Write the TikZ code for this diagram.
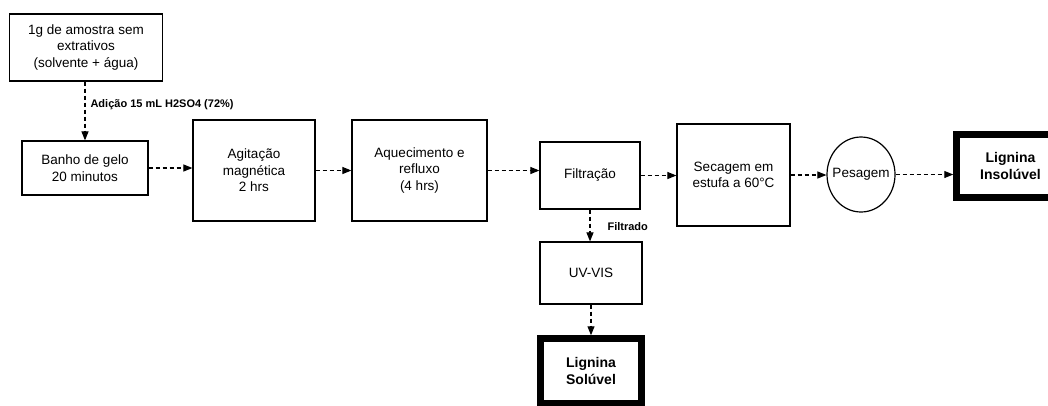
\documentclass[tikz,border=0pt]{standalone}
\usepackage{fontspec}
\setmainfont{Liberation Sans}
\usetikzlibrary{arrows.meta,shapes.geometric}
\tikzset{>={Triangle[width=7pt,length=9pt]}}

\begin{document}
\begin{tikzpicture}[x=1pt,y=-1pt,
    etapa/.style={draw,line width=1.2pt,align=center,inner sep=0pt,font=\fontsize{13.5}{16.5}\selectfont},
    final/.style={etapa,line width=6.5pt,font=\fontsize{14}{17}\selectfont\bfseries},
    fluxo/.style={->,line width=1.1pt,dash pattern=on 4pt off 3pt},
    rotulo/.style={font=\fontsize{11}{13}\selectfont\bfseries,inner sep=0pt}]

  \useasboundingbox (0,0) rectangle (1048,405);
  \clip (0,0) rectangle (1048,405);
  \fill[white] (0,0) rectangle (1048,405);

  %% etapas
  \node[etapa,minimum width=153pt,minimum height=67pt] (amostra) at (86,47.5)
    {1g de amostra sem\\extrativos\\(solvente + água)};
  \node[etapa,minimum width=126pt,minimum height=54pt] (banho) at (85,168)
    {Banho de gelo\\20 minutos};
  \node[etapa,minimum width=122pt,minimum height=101pt] (agitacao) at (254,170.5)
    {Agitação\\magnética\\2 hrs};
  \node[etapa,minimum width=135pt,minimum height=101pt] (aquec) at (419.5,170.5)
    {Aquecimento e\\refluxo\\(4 hrs)};
  \node[etapa,minimum width=100pt,minimum height=67pt] (filtracao) at (590,175.5)
    {Filtração};
  \node[etapa,minimum width=113pt,minimum height=102pt] (secagem) at (733.5,175)
    {Secagem em\\estufa a 60°C};
  \node[etapa,ellipse,minimum width=68pt,minimum height=75pt] (pesagem) at (861,174.5)
    {\makebox[20pt]{Pesagem}};
  \node[final,minimum width=108pt,minimum height=63pt] (insoluvel) at (1010.5,166)
    {Lignina\\Insolúvel};
  \node[etapa,minimum width=102pt,minimum height=62pt] (uvvis) at (591,273)
    {UV-VIS};
  \node[final,minimum width=101pt,minimum height=65pt] (soluvel) at (591,371)
    {Lignina\\Solúvel};

  %% fluxo principal
  \draw[fluxo] (banho.north |- amostra.south) -- node[rotulo,right,pos=0.4,xshift=5pt]{Adição 15 mL H2SO4 (72\%)} (banho.north);
  \draw[fluxo] (banho.east) -- (banho.east -| agitacao.west);
  \draw[fluxo] (agitacao.east) -- (agitacao.east -| aquec.west);
  \draw[fluxo] (aquec.east) -- (aquec.east -| filtracao.west);
  \draw[fluxo] (filtracao.east) -- (filtracao.east -| secagem.west);
  \draw[fluxo] (secagem.east) -- (secagem.east -| pesagem.west);
  \draw[fluxo] (pesagem.east) -- (pesagem.east -| insoluvel.west);

  %% filtrado
  \draw[fluxo] (filtracao.south) -- node[rotulo,right,xshift=17pt,yshift=-1.5pt]{Filtrado} (filtracao.south |- uvvis.north);
  \draw[fluxo] (uvvis.south) -- (uvvis.south |- soluvel.north);

\end{tikzpicture}
\end{document}
